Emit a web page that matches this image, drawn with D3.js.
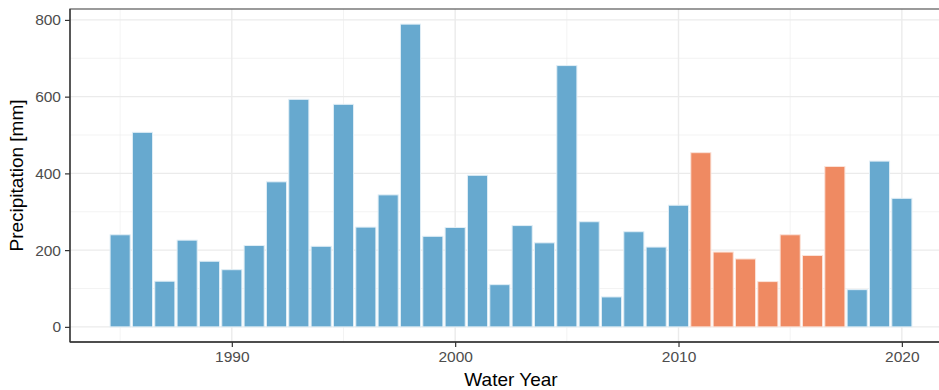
<!DOCTYPE html>
<html><head><meta charset="utf-8">
<script src="https://cdn.jsdelivr.net/npm/d3@7"></script>
<style>body{margin:0;background:#fff;}svg{display:block;font-family:"Liberation Sans",Arial,sans-serif;}</style>
</head><body><svg id="c" width="939" height="390"></svg>
<script>
const years = d3.range(1985, 2021);
const precip = [240,507,119,226,171,149,212,378,593,210,580,260,344,789,236,259,395,110,264,219,681,274,78,248,208,317,454,195,177,118,240,186,418,97,432,335];
const highlightYears = [2011,2012,2013,2014,2015,2016,2017];
const xTicks = [1990,2000,2010,2020];
const xMinor = [1985,1995,2005,2015];
const yTicks = [0,200,400,600,800];
const yMinor = [100,300,500,700];
const colors = {normal:"#67a9cf", highlight:"#ef8a62"};

const svg = d3.select("#c");
const L=70, R=952, T=9, B=342;
const x = d3.scaleLinear().domain([1982.755, 2022.245]).range([L,R]);
const y = d3.scaleLinear().domain([-39.45, 828.45]).range([B,T]);

const g = svg.append("g");
// grid
g.selectAll(".ymin").data(yMinor).join("line").attr("x1",L).attr("x2",R)
 .attr("y1",d=>y(d)).attr("y2",d=>y(d)).attr("stroke","#ebebeb").attr("stroke-width",0.6);
g.selectAll(".xmin").data(xMinor).join("line").attr("y1",T).attr("y2",B)
 .attr("x1",d=>x(d)).attr("x2",d=>x(d)).attr("stroke","#ebebeb").attr("stroke-width",0.6);
g.selectAll(".ymaj").data(yTicks).join("line").attr("x1",L).attr("x2",R)
 .attr("y1",d=>y(d)).attr("y2",d=>y(d)).attr("stroke","#ebebeb").attr("stroke-width",1.4);
g.selectAll(".xmaj").data(xTicks).join("line").attr("y1",T).attr("y2",B)
 .attr("x1",d=>x(d)).attr("x2",d=>x(d)).attr("stroke","#ebebeb").attr("stroke-width",1.4);

// bars
const bw = 0.9;
g.selectAll(".bar").data(years.map((yr,i)=>({yr,v:precip[i]}))).join("rect")
 .attr("x",d=>x(d.yr-bw/2)).attr("width",d=>x(d.yr+bw/2)-x(d.yr-bw/2))
 .attr("y",d=>y(d.v)).attr("height",d=>y(0)-y(d.v))
 .attr("fill",d=>highlightYears.includes(d.yr)?colors.highlight:colors.normal)
 .attr("stroke",d=>highlightYears.includes(d.yr)?"#fbe3d9":"#e0eef6").attr("stroke-width",1);

// border
svg.append("rect").attr("x",L).attr("y",T).attr("width",R-L).attr("height",B-T)
 .attr("fill","none").attr("stroke","#666").attr("stroke-width",1.3);
svg.append("line").attr("x1",L).attr("x2",L).attr("y1",T).attr("y2",B).attr("stroke","#333").attr("stroke-width",1.3);
svg.append("line").attr("x1",L).attr("x2",R).attr("y1",B).attr("y2",B).attr("stroke","#333").attr("stroke-width",1.3);

// axes
const xa = svg.append("g").attr("transform",`translate(0,${B})`)
 .call(d3.axisBottom(x).tickValues(xTicks).tickFormat(d3.format("d")).tickSize(5).tickPadding(4));
const ya = svg.append("g").attr("transform",`translate(${L},0)`)
 .call(d3.axisLeft(y).tickValues(yTicks).tickSize(5).tickPadding(4));
[xa,ya].forEach(a=>{
  a.select(".domain").remove();
  a.selectAll(".tick line").attr("stroke","#333").attr("stroke-width",1.2);
  a.selectAll(".tick text").attr("fill","#4d4d4d").style("font-size","15.5px").style("font-family","'Liberation Sans',Arial,sans-serif");
});

svg.append("text").attr("x",(L+R)/2).attr("y",386).attr("text-anchor","middle")
 .style("font-size","19px").attr("fill","#000").text("Water Year");
svg.append("text").attr("transform",`translate(23,${(T+B)/2}) rotate(-90)`).attr("text-anchor","middle")
 .style("font-size","19px").attr("fill","#000").text("Precipitation [mm]");
</script></body></html>
